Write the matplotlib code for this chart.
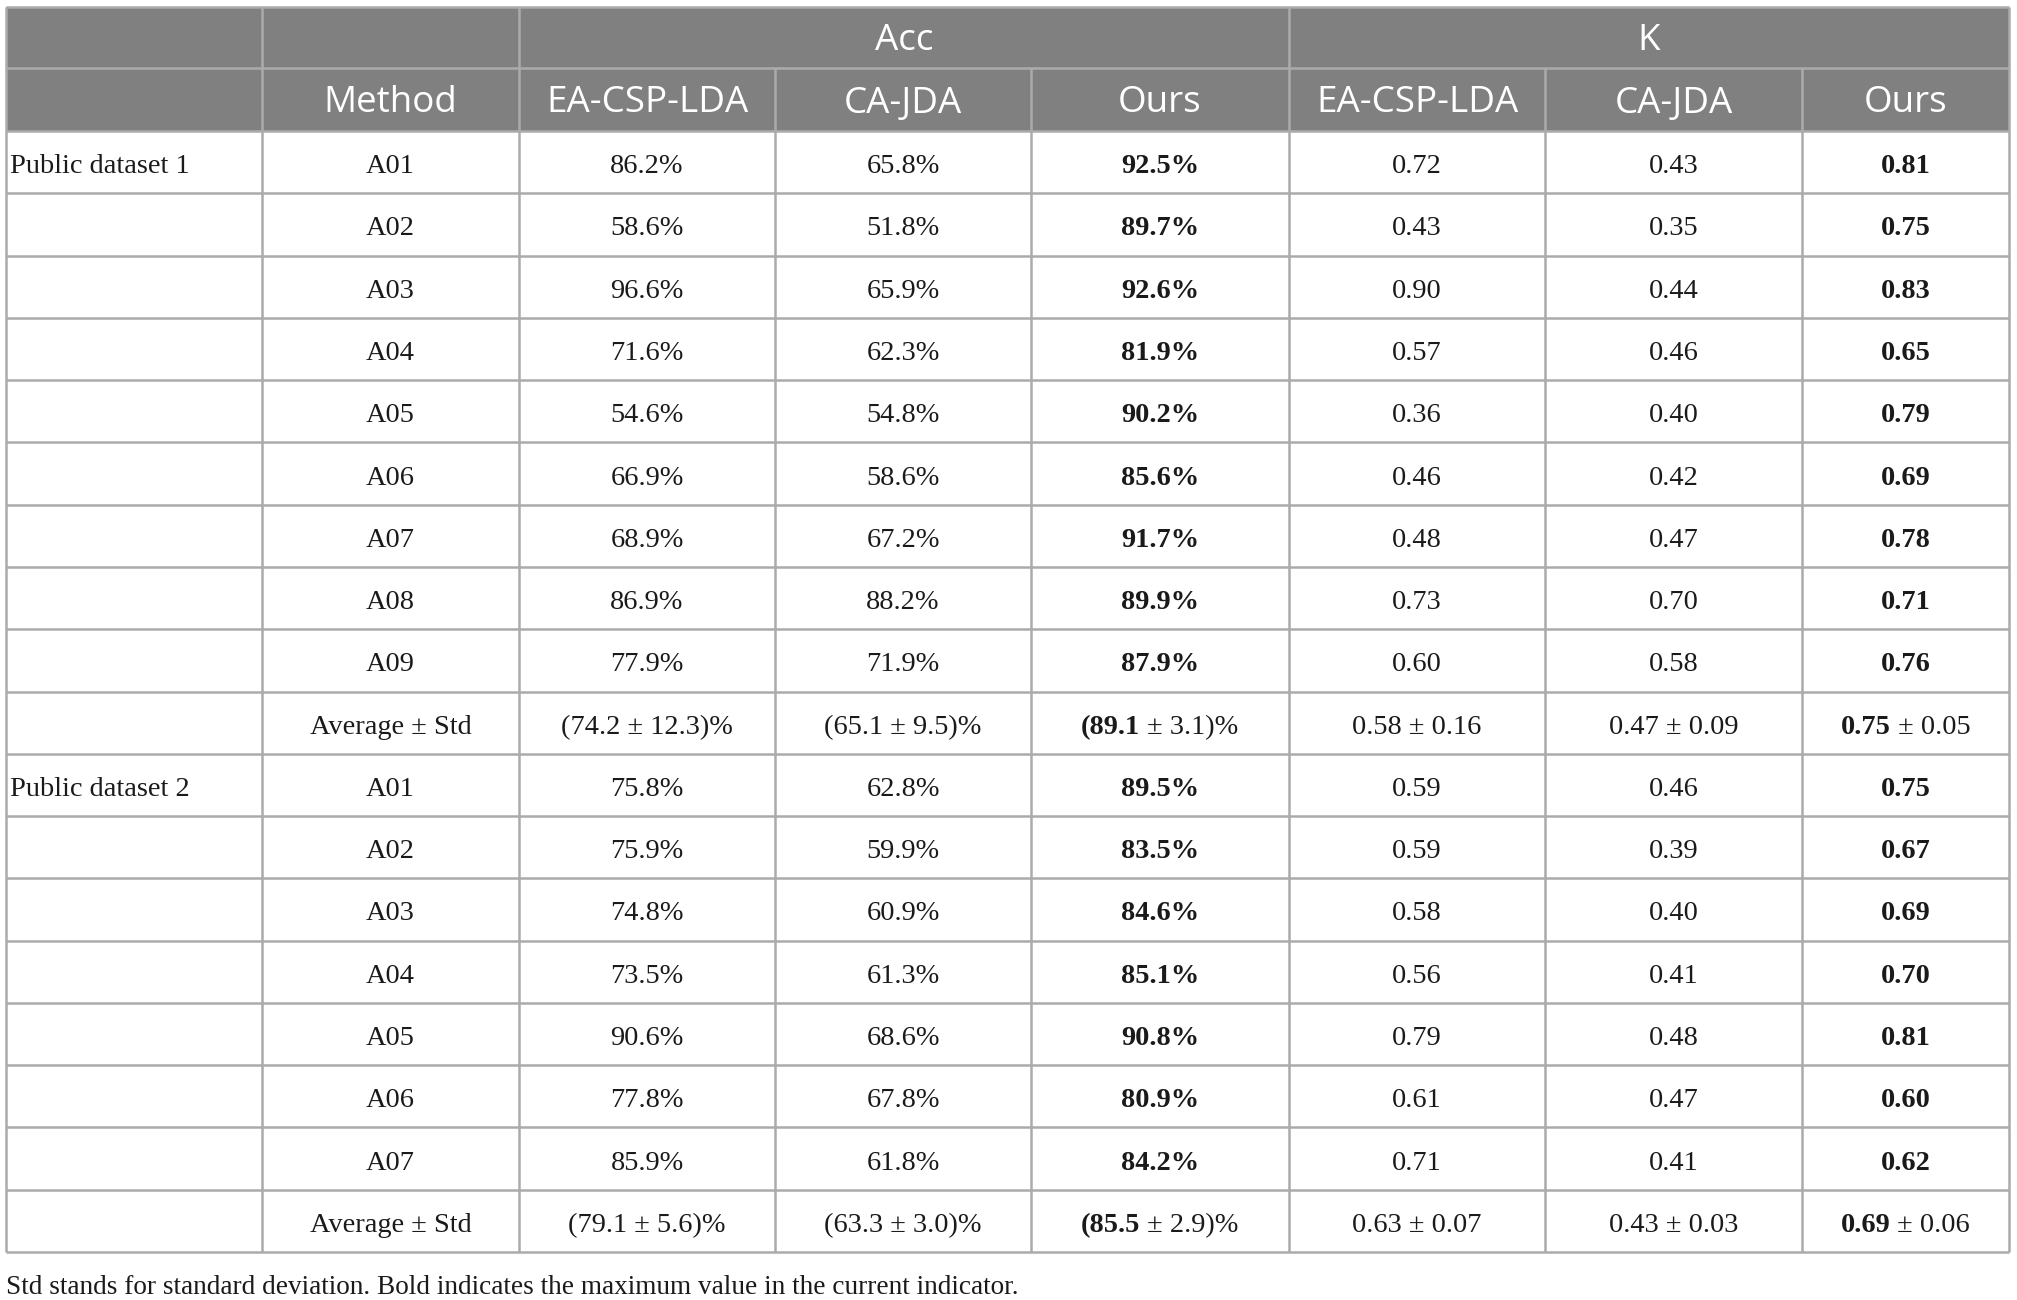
import matplotlib
matplotlib.use("Agg")
import matplotlib.pyplot as plt
from matplotlib.patches import Rectangle

# ---------------- data ----------------
groups = ["Public dataset 1", "Public dataset 2"]
subjects1 = ["A01", "A02", "A03", "A04", "A05", "A06", "A07", "A08", "A09"]
ea_acc1 = [86.2, 58.6, 96.6, 71.6, 54.6, 66.9, 68.9, 86.9, 77.9]
ca_acc1 = [65.8, 51.8, 65.9, 62.3, 54.8, 58.6, 67.2, 88.2, 71.9]
ours_acc1 = [92.5, 89.7, 92.6, 81.9, 90.2, 85.6, 91.7, 89.9, 87.9]
ea_k1 = [0.72, 0.43, 0.90, 0.57, 0.36, 0.46, 0.48, 0.73, 0.60]
ca_k1 = [0.43, 0.35, 0.44, 0.46, 0.40, 0.42, 0.47, 0.70, 0.58]
ours_k1 = [0.81, 0.75, 0.83, 0.65, 0.79, 0.69, 0.78, 0.71, 0.76]
avg_acc1 = [(74.2, 12.3), (65.1, 9.5), (89.1, 3.1)]
avg_k1 = [(0.58, 0.16), (0.47, 0.09), (0.75, 0.05)]

subjects2 = ["A01", "A02", "A03", "A04", "A05", "A06", "A07"]
ea_acc2 = [75.8, 75.9, 74.8, 73.5, 90.6, 77.8, 85.9]
ca_acc2 = [62.8, 59.9, 60.9, 61.3, 68.6, 67.8, 61.8]
ours_acc2 = [89.5, 83.5, 84.6, 85.1, 90.8, 80.9, 84.2]
ea_k2 = [0.59, 0.59, 0.58, 0.56, 0.79, 0.61, 0.71]
ca_k2 = [0.46, 0.39, 0.40, 0.41, 0.48, 0.47, 0.41]
ours_k2 = [0.75, 0.67, 0.69, 0.70, 0.81, 0.60, 0.62]
avg_acc2 = [(79.1, 5.6), (63.3, 3.0), (85.5, 2.9)]
avg_k2 = [(0.63, 0.07), (0.43, 0.03), (0.69, 0.06)]

methods = ["EA-CSP-LDA", "CA-JDA", "Ours"]
metric_groups = ["Acc", "K"]
first_header = "Method"
avg_label = "Average \u00b1 Std"
footnote = "Std stands for standard deviation. Bold indicates the maximum value in the current indicator."

# ---------------- layout ----------------
W, H = 2017, 1300
col_edges = [6, 262, 519, 775, 1031, 1289, 1545, 1802, 2009]
top = 7
h1_bottom = 68
h2_bottom = 131
table_bottom = 1252
header_bg = "#808080"
line_col = "#ababab"
text_col = "#1a1a1a"
sans = ["Open Sans", "DejaVu Sans"]
serif = ["Liberation Serif", "DejaVu Serif"]
HFS = 26.5
BFS = 20.4
FFS = 19.6

fig = plt.figure(figsize=(W / 100, H / 100), dpi=100)
ax = fig.add_axes([0, 0, 1, 1])
ax.set_xlim(0, W)
ax.set_ylim(H, 0)
ax.axis("off")


def pct(v):
    return f"{v:.1f}%"


def kf(v):
    return f"{v:.2f}"


rows = []
for gi, (subs, ea, ca, ou, eak, cak, ouk, aa, ak) in enumerate([
        (subjects1, ea_acc1, ca_acc1, ours_acc1, ea_k1, ca_k1, ours_k1, avg_acc1, avg_k1),
        (subjects2, ea_acc2, ca_acc2, ours_acc2, ea_k2, ca_k2, ours_k2, avg_acc2, avg_k2)]):
    for i, s in enumerate(subs):
        label = groups[gi] if i == 0 else ""
        cells = [("", s), ("", pct(ea[i])), ("", pct(ca[i])), (pct(ou[i]), ""),
                 ("", kf(eak[i])), ("", kf(cak[i])), (kf(ouk[i]), "")]
        rows.append((label, cells))
    cells = [("", avg_label)]
    for j, (m, sd) in enumerate(aa):
        if j == 2:
            cells.append((f"({m:.1f}", f" \u00b1 {sd:.1f})%"))
        else:
            cells.append(("", f"({m:.1f} \u00b1 {sd:.1f})%"))
    for j, (m, sd) in enumerate(ak):
        if j == 2:
            cells.append((f"{m:.2f}", f" \u00b1 {sd:.2f}"))
        else:
            cells.append(("", f"{m:.2f} \u00b1 {sd:.2f}"))
    rows.append(("", cells))

n_rows = len(rows)
row_h = (table_bottom - h2_bottom) / n_rows

# header background
ax.add_patch(Rectangle((col_edges[0], top), col_edges[-1] - col_edges[0], h2_bottom - top,
                       facecolor=header_bg, edgecolor="none", zorder=1))

yc1 = (top + h1_bottom) / 2
yc2 = (h1_bottom + h2_bottom) / 2
ax.text((col_edges[2] + col_edges[5]) / 2, yc1 + 13, metric_groups[0], ha="center", va="baseline",
        fontsize=HFS, family=sans, color="white", zorder=3)
ax.text((col_edges[5] + col_edges[8]) / 2, yc1 + 13, metric_groups[1], ha="center", va="baseline",
        fontsize=HFS, family=sans, color="white", zorder=3)
ax.text((col_edges[1] + col_edges[2]) / 2, yc2 + 13, first_header, ha="center", va="baseline",
        fontsize=HFS, family=sans, color="white", zorder=3)
for k in range(6):
    c = 2 + k
    ax.text((col_edges[c] + col_edges[c + 1]) / 2, yc2 + 13, methods[k % 3], ha="center", va="baseline",
            fontsize=HFS, family=sans, color="white", zorder=3)

# body texts
fig.canvas.draw()
renderer = fig.canvas.get_renderer()


def text_width(s, weight):
    if not s:
        return 0.0
    t = ax.text(0, 0, s, fontsize=BFS, family=serif, fontweight=weight)
    bb = t.get_window_extent(renderer=renderer)
    t.remove()
    return bb.width


for r, (label, cells) in enumerate(rows):
    yb = h2_bottom + (r + 0.5) * row_h + 11
    if label:
        ax.text(col_edges[0] + 4, yb, label, ha="left", va="baseline", fontsize=BFS,
                family=serif, color=text_col, zorder=3)
    for j, (bpart, rpart) in enumerate(cells):
        cx = (col_edges[j + 1] + col_edges[j + 2]) / 2
        wb = text_width(bpart, "bold")
        wr = text_width(rpart, "normal")
        x0 = cx - (wb + wr) / 2
        if bpart:
            ax.text(x0, yb, bpart, ha="left", va="baseline", fontsize=BFS, family=serif,
                    fontweight="bold", color=text_col, zorder=3)
        if rpart:
            ax.text(x0 + wb, yb, rpart, ha="left", va="baseline", fontsize=BFS, family=serif,
                    color=text_col, zorder=3)

# grid lines
lw = 1.8
ax.hlines([top, h1_bottom, h2_bottom], col_edges[0], col_edges[-1], color=line_col, lw=lw, zorder=2)
for r in range(1, n_rows + 1):
    ax.hlines(h2_bottom + r * row_h, col_edges[0], col_edges[-1], color=line_col, lw=lw, zorder=2)
for i, x in enumerate(col_edges):
    if i in (0, 1, 2, 5, 8):
        ax.vlines(x, top, table_bottom, color=line_col, lw=lw, zorder=2)
    else:
        ax.vlines(x, h1_bottom, table_bottom, color=line_col, lw=lw, zorder=2)

# footnote
ax.text(col_edges[0], 1294, footnote, ha="left", va="baseline", fontsize=FFS, family=serif,
        color=text_col, zorder=3)

fig.savefig("out.png", dpi=100)
